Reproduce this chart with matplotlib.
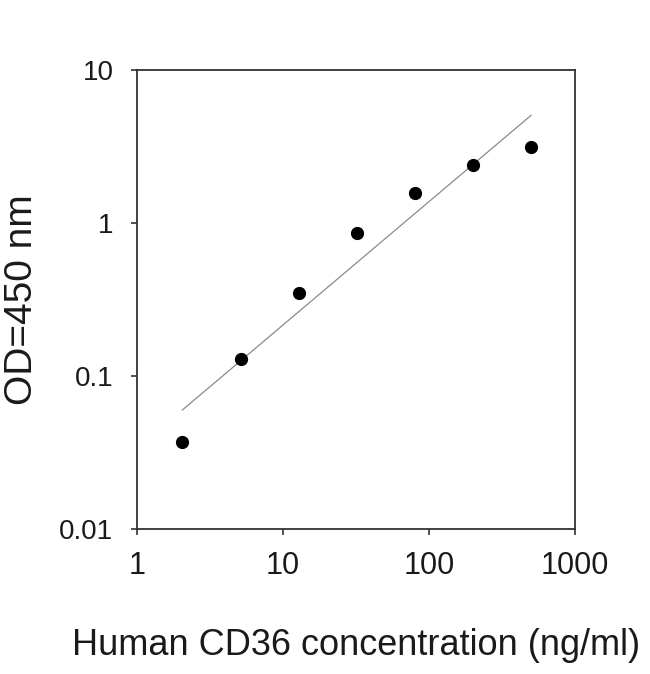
import matplotlib
matplotlib.use('Agg')
import matplotlib.pyplot as plt
from matplotlib.ticker import FixedLocator, FixedFormatter, NullLocator

# dados
conc = [2.048, 5.12, 12.8, 32, 80, 200, 500]
od = [0.037, 0.13, 0.35, 0.86, 1.57, 2.38, 3.15]
# reta de ajuste (extremos)
fit_x = [2.048, 500]
fit_y = [0.06, 5.05]

x_ticks = [1, 10, 100, 1000]
x_labels = ['1', '10', '100', '1000']
y_ticks = [0.01, 0.1, 1, 10]
y_labels = ['0.01', '0.1', '1', '10']

plt.rcParams['font.family'] = ['Liberation Sans', 'DejaVu Sans']

fig = plt.figure(figsize=(6.5, 6.74), dpi=100)
ax = fig.add_axes([137 / 650, 1 - 529 / 674, 438 / 650, 459 / 674])

ax.plot(fit_x, fit_y, color='#8a8a8a', lw=0.9)
ax.plot(conc, od, 'o', color='black', markersize=8.5, zorder=3)

ax.set_xscale('log')
ax.set_yscale('log')
ax.set_xlim(1, 1000)
ax.set_ylim(0.01, 10)

ax.xaxis.set_major_locator(FixedLocator(x_ticks))
ax.xaxis.set_major_formatter(FixedFormatter(x_labels))
ax.yaxis.set_major_locator(FixedLocator(y_ticks))
ax.yaxis.set_major_formatter(FixedFormatter(y_labels))
ax.xaxis.set_minor_locator(NullLocator())
ax.yaxis.set_minor_locator(NullLocator())

for s in ax.spines.values():
    s.set_color('#333333')
    s.set_linewidth(1.3)

ax.tick_params(axis='x', direction='out', length=4, width=1.2, color='#333333',
               labelsize=22, pad=12, labelcolor='#1a1a1a')
ax.tick_params(axis='y', direction='out', length=4, width=1.2, color='#333333',
               labelsize=20, pad=13, labelcolor='#1a1a1a')

ax.set_xlabel('Human CD36 concentration (ng/ml)', fontsize=26, color='#1a1a1a')
ax.xaxis.set_label_coords(0.5, -0.215)
ax.set_ylabel('OD=450 nm', fontsize=28, color='#1a1a1a')
ax.yaxis.set_label_coords(-0.222, 0.5)

fig.savefig('out.png', dpi=100)
